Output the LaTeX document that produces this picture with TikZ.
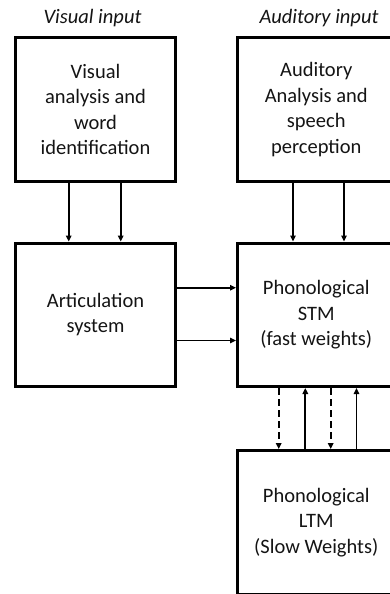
\documentclass[tikz,border=0pt]{standalone}
\usepackage{fontspec}
\setmainfont{Carlito}
\usetikzlibrary{arrows.meta}
\begin{document}
\begin{tikzpicture}[x=1pt,y=-1pt,
  box/.style={draw=black,line width=3pt,rectangle,align=center,
    font=\fontsize{20.5}{25.5}\selectfont,text=black!92,inner sep=0pt},
  title/.style={font=\fontsize{20.5}{25.5}\selectfont\itshape,text=black!92},
  arr/.style={line width=1.8pt,-{Triangle[length=6pt,width=5.5pt]}},
  darr/.style={arr,dash pattern=on 7pt off 4pt}]
\useasboundingbox (0,0) rectangle (390,594);

% input labels
\node[title] (tv) at (92.5,18) {Visual input};
\node[title] (ta) at (319,18) {Auditory input};

% boxes
\node[box,minimum width=160pt,minimum height=144pt] (vis) at (95.5,109.5)
  {Visual\\analysis and\\word\\identification};
\node[box,minimum width=157.5pt,minimum height=144pt] (aud) at (316.25,109.5)
  {Auditory\\Analysis and\\speech\\perception};
\node[box,minimum width=160pt,minimum height=143.5pt] (art) at (95.5,314.75)
  {Articulation\\system};
\node[box,minimum width=157.5pt,minimum height=143.5pt] (stm) at (316.25,314.75)
  {Phonological\\STM\\(fast weights)};
\node[box,minimum width=157.5pt,minimum height=143.5pt] (ltm) at (316.25,522.25)
  {Phonological\\LTM\\(Slow Weights)};

% input analysis to second row
\draw[arr] ([xshift=-26.8pt]vis.south) -- ([xshift=-26.8pt]art.north);
\draw[arr] ([xshift=25.2pt]vis.south) -- ([xshift=25.2pt]art.north);
\draw[arr] ([xshift=-23.25pt]aud.south) -- ([xshift=-23.25pt]stm.north);
\draw[arr] ([xshift=27.75pt]aud.south) -- ([xshift=27.75pt]stm.north);

% articulation to STM
\draw[arr] ([yshift=-25.75pt]art.east) -- ([yshift=-25.75pt]stm.west);
\draw[arr] ([yshift=27pt]art.east) -- ([yshift=27pt]stm.west);

% STM <-> LTM
\draw[darr] ([xshift=-37.55pt]stm.south) -- ([xshift=-37.55pt]ltm.north);
\draw[arr] ([xshift=-10.95pt]ltm.north) -- ([xshift=-10.95pt]stm.south);
\draw[darr] ([xshift=14.45pt]stm.south) -- ([xshift=14.45pt]ltm.north);
\draw[arr] ([xshift=40.25pt]ltm.north) -- ([xshift=40.25pt]stm.south);
\end{tikzpicture}
\end{document}
